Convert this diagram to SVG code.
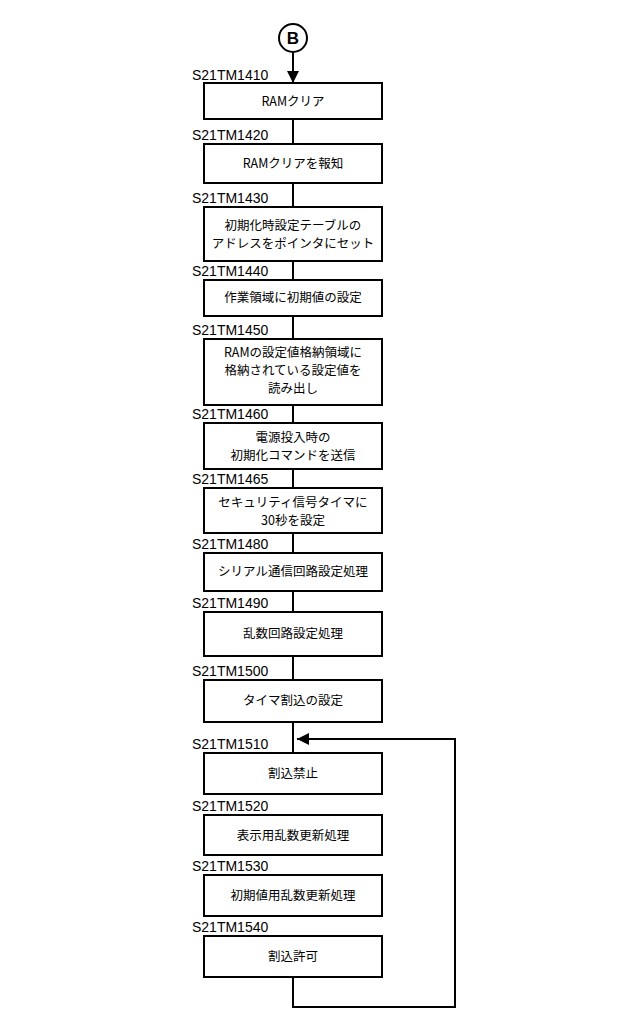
<svg xmlns="http://www.w3.org/2000/svg" width="640" height="1020" viewBox="0 0 640 1020">
<style>
.b{fill:#fff;stroke:#000;stroke-width:2}
.l{font-family:"Liberation Sans",sans-serif;font-size:14px}
.t{font-family:"Noto Sans CJK JP",sans-serif;font-size:12.5px;text-anchor:middle}
.c{fill:none;stroke:#000;stroke-width:2}
</style>
<defs><marker id="a" viewBox="0 0 10 10" refX="10" refY="5" markerWidth="6" markerHeight="6" orient="auto"><path d="M0,0L10,5L0,10z"/></marker></defs>
<rect width="640" height="1020" fill="#fff"/>
<g id="connectors">
<line class="c" x1="293" y1="53" x2="293" y2="83" marker-end="url(#a)"/>
<line class="c" x1="293" y1="119" x2="293" y2="753"/>
<polyline class="c" points="293,977 293,1007 455,1007 455,739 297,739" marker-end="url(#a)"/>
</g>
<g id="B"><circle cx="293" cy="38" r="14" fill="#fff" stroke="#000" stroke-width="2"/><text x="293" y="44" font-family="Liberation Sans,sans-serif" font-size="17" font-weight="bold" text-anchor="middle">B</text></g>
<g id="n1410"><text class="l" x="192" y="80">S21TM1410</text><rect class="b" x="204" y="83" width="178" height="36"/><text class="t" x="293" y="106">RAMクリア</text></g>
<g id="n1420"><text class="l" x="192" y="140">S21TM1420</text><rect class="b" x="204" y="144" width="178" height="39"/><text class="t" x="293" y="168">RAMクリアを報知</text></g>
<g id="n1430"><text class="l" x="192" y="203">S21TM1430</text><rect class="b" x="204" y="207" width="178" height="54"/><text class="t" x="293" y="230">初期化時設定テーブルの</text><text class="t" x="293" y="248">アドレスをポインタにセット</text></g>
<g id="n1440"><text class="l" x="192" y="276">S21TM1440</text><rect class="b" x="204" y="280" width="178" height="36"/><text class="t" x="293" y="302">作業領域に初期値の設定</text></g>
<g id="n1450"><text class="l" x="192" y="335">S21TM1450</text><rect class="b" x="204" y="339" width="178" height="66"/><text class="t" x="293" y="357">RAMの設定値格納領域に</text><text class="t" x="293" y="375">格納されている設定値を</text><text class="t" x="293" y="393">読み出し</text></g>
<g id="n1460"><text class="l" x="192" y="419">S21TM1460</text><rect class="b" x="204" y="423" width="178" height="46"/><text class="t" x="293" y="442">電源投入時の</text><text class="t" x="293" y="460">初期化コマンドを送信</text></g>
<g id="n1465"><text class="l" x="192" y="484">S21TM1465</text><rect class="b" x="204" y="488" width="178" height="45"/><text class="t" x="293" y="507">セキュリティ信号タイマに</text><text class="t" x="293" y="525">30秒を設定</text></g>
<g id="n1480"><text class="l" x="192" y="549">S21TM1480</text><rect class="b" x="204" y="553" width="178" height="38"/><text class="t" x="293" y="576">シリアル通信回路設定処理</text></g>
<g id="n1490"><text class="l" x="192" y="608">S21TM1490</text><rect class="b" x="204" y="612" width="178" height="44"/><text class="t" x="293" y="638">乱数回路設定処理</text></g>
<g id="n1500"><text class="l" x="192" y="676">S21TM1500</text><rect class="b" x="204" y="680" width="178" height="42"/><text class="t" x="293" y="705">タイマ割込の設定</text></g>
<g id="n1510"><text class="l" x="192" y="749">S21TM1510</text><rect class="b" x="204" y="753" width="178" height="41"/><text class="t" x="293" y="778">割込禁止</text></g>
<g id="n1520"><text class="l" x="192" y="811">S21TM1520</text><rect class="b" x="204" y="815" width="178" height="40"/><text class="t" x="293" y="840">表示用乱数更新処理</text></g>
<g id="n1530"><text class="l" x="192" y="871">S21TM1530</text><rect class="b" x="204" y="875" width="178" height="41"/><text class="t" x="293" y="900">初期値用乱数更新処理</text></g>
<g id="n1540"><text class="l" x="192" y="932">S21TM1540</text><rect class="b" x="204" y="936" width="178" height="41"/><text class="t" x="293" y="961">割込許可</text></g>
</svg>
